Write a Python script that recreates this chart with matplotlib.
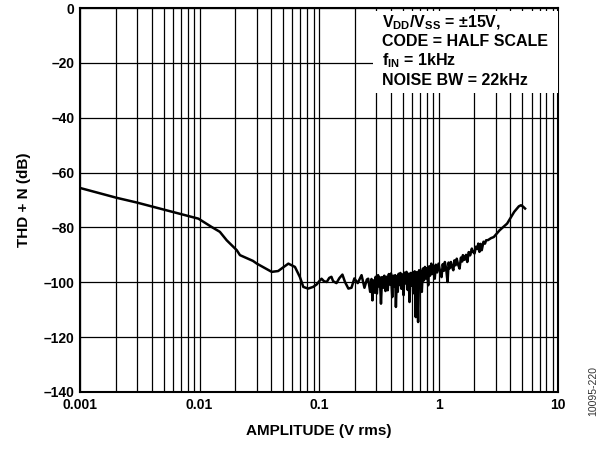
import matplotlib
matplotlib.use("Agg")
import matplotlib.pyplot as plt
from matplotlib.patches import Rectangle

plt.rcParams['font.family'] = ['Liberation Sans', 'DejaVu Sans']
plt.rcParams['font.weight'] = 'bold'
plt.rcParams['mathtext.fontset'] = 'custom'
plt.rcParams['mathtext.rm'] = 'Liberation Sans:bold'
plt.rcParams['mathtext.bf'] = 'Liberation Sans:bold'

# THD + N vs amplitude (V rms)
amplitude = [
    0.001, 0.00203, 0.00298, 0.00566, 0.0098, 0.0126, 0.0148, 0.0169, 0.0205,
    0.0218, 0.028, 0.0302, 0.0402, 0.0455, 0.0554, 0.0629, 0.0692, 0.0739,
    0.0811, 0.0892, 0.0955, 0.1018, 0.105, 0.110, 0.116, 0.1218, 0.127,
    0.1312, 0.140, 0.148, 0.157, 0.165, 0.1761, 0.187, 0.1976, 0.2108,
    0.227, 0.240, 0.2514, 0.258,
    0.268, 0.275, 0.280, 0.285, 0.292, 0.298, 0.305, 0.312, 0.318, 0.323,
    0.330, 0.337, 0.345, 0.352, 0.360, 0.368, 0.376, 0.384, 0.392, 0.400,
    0.410, 0.418, 0.426, 0.434, 0.440, 0.448, 0.456, 0.464, 0.472, 0.480,
    0.490, 0.500, 0.510, 0.520, 0.530, 0.540, 0.552, 0.562, 0.572, 0.584,
    0.596, 0.608, 0.620, 0.632, 0.645, 0.658, 0.675, 0.688, 0.700, 0.712,
    0.725, 0.740, 0.755, 0.770, 0.785, 0.800, 0.820, 0.835, 0.850, 0.870,
    0.890, 0.910, 0.930, 0.950, 0.975, 1.000, 1.030, 1.060, 1.085, 1.110,
    1.130, 1.160, 1.190, 1.215, 1.240, 1.270, 1.300, 1.330, 1.360, 1.390,
    1.420, 1.460, 1.500, 1.540, 1.580, 1.600, 1.650, 1.700, 1.740, 1.790,
    1.840, 1.900, 1.950, 2.000, 2.060, 2.120, 2.150, 2.200, 2.250, 2.300,
    2.380, 2.450, 2.500, 2.600, 2.750, 2.900, 3.250, 3.750, 4.300, 4.700,
    4.900, 5.100, 5.300,
]
thd_n = [
    -65.6, -69.2, -70.9, -74.1, -76.8, -79.8, -81.6, -84.7, -88.3,
    -90.1, -92.2, -93.2, -96.2, -95.9, -93.2, -94.4, -98.1, -101.7,
    -102.3, -101.7, -100.8, -99.3, -98.7, -99.6, -99.9, -98.4, -98.0,
    -99.6, -100.3, -98.5, -97.2, -99.9, -102.3, -102.0, -98.6, -100.3,
    -97.4, -102.0, -99.0, -98.7,
    -103.5, -98.8, -106.6, -99.3, -103.8, -98.0, -104.1, -97.4, -101.5, -98.2,
    -107.8, -98.1, -102.0, -97.6, -103.2, -98.0, -102.9, -97.0, -100.8, -96.8,
    -105.4, -97.6, -101.6, -97.4, -109.0, -97.9, -103.5, -96.9, -101.0, -96.6,
    -102.4, -97.1, -104.7, -96.5, -100.4, -96.2, -102.8, -96.9, -107.2, -96.6,
    -101.2, -96.4, -104.0, -96.0, -112.7, -96.3, -114.5, -95.6, -100.5, -95.9,
    -103.5, -95.0, -99.3, -94.4, -98.6, -94.9, -101.1, -94.2, -97.6, -93.2,
    -97.0, -94.0, -98.7, -93.6, -96.4, -93.2, -96.0, -98.1, -93.4, -95.8,
    -92.6, -95.2, -99.9, -92.8, -94.9, -92.6, -94.5, -95.6, -92.0, -93.8,
    -91.4, -93.6, -95.0, -91.0, -92.4, -90.1, -91.8, -90.0, -92.6, -89.0,
    -90.2, -87.7, -89.0, -89.5, -87.0, -87.9, -85.9, -88.9, -86.0, -88.3,
    -85.2, -85.9, -84.7, -84.6, -83.9, -83.5, -81.0, -78.6, -74.3, -72.3,
    -71.9, -72.4, -73.1,
]

x_ticks = [0.001, 0.01, 0.1, 1, 10]
x_labels = ['0.001', '0.01', '0.1', '1', '10']
y_ticks = [0, -20, -40, -60, -80, -100, -120, -140]
y_labels = ['0', '–20', '–40', '–60', '–80', '–100', '–120', '–140']

notes = [
    r'V$_{\mathrm{DD}}$/V$_{\mathrm{SS}}$ = ±15V,',
    'CODE = HALF SCALE',
    r'f$_{\mathrm{IN}}$ = 1kHz',
    'NOISE BW = 22kHz',
]

fig = plt.figure(figsize=(6.07, 4.5), dpi=100)
ax = fig.add_axes([0.1318, 0.129, 0.7875, 0.853])

ax.set_xscale('log')
ax.set_xlim(0.001, 10)
ax.set_ylim(-140, 0)

ax.set_xticks(x_ticks)
ax.set_xticklabels(x_labels)
ax.set_yticks(y_ticks)
ax.set_yticklabels(y_labels)
ax.tick_params(which='both', length=0, labelsize=10, pad=4)
ax.xaxis.set_minor_formatter(plt.NullFormatter())

ax.grid(which='major', color='black', lw=0.9)
ax.grid(which='minor', axis='x', color='black', lw=0.9)
ax.set_axisbelow(True)
for s in ax.spines.values():
    s.set_linewidth(1.5)

ax.plot(amplitude, thd_n, color='black', lw=1.8, zorder=3)

# note block over the grid
ax.add_patch(Rectangle((0.613, 0.779), 0.387, 0.213, transform=ax.transAxes,
                       facecolor='white', edgecolor='none', zorder=4))
for i, line in enumerate(notes):
    ax.text(0.632, 0.962 - i * 0.05, line, transform=ax.transAxes,
            fontsize=11.5, fontweight='bold', va='center', ha='left', zorder=5)

ax.set_xlabel('AMPLITUDE (V rms)', fontsize=11, fontweight='bold', labelpad=9)
ax.set_ylabel('THD + N (dB)', fontsize=11, fontweight='bold', labelpad=9)

fig.text(0.977, 0.13, '10095-220', rotation=90, fontsize=7.5,
         fontweight='normal', color='#333333', ha='center', va='center')

fig.savefig('out.png', dpi=100)
